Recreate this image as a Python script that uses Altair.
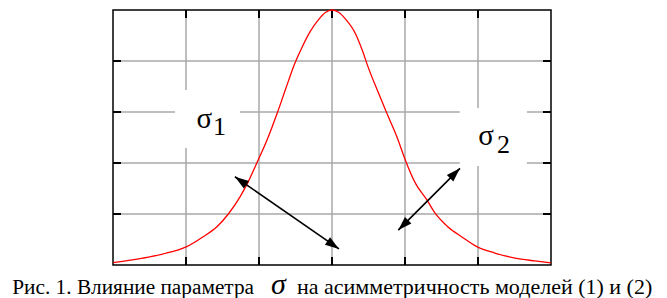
import math
import altair as alt
import pandas as pd

# ---- data ----
curve_x = [-3.0, -2.59, -2.32, -1.99, -1.77, -1.58, -1.42, -1.26, -1.15, -1.03, -0.89, -0.75,
           -0.64, -0.51, -0.40, -0.30, -0.19, -0.09, 0.0, 0.09, 0.18, 0.32, 0.42, 0.49, 0.62, 0.75,
           0.89, 1.0, 1.14, 1.30, 1.41, 1.59, 1.78, 1.99, 2.23, 2.51, 2.78, 3.0]
curve_y = [0.009, 0.027, 0.043, 0.072, 0.110, 0.149, 0.200, 0.267, 0.325, 0.400, 0.490, 0.596,
           0.686, 0.790, 0.860, 0.915, 0.960, 0.990, 1.0, 0.991, 0.966, 0.908, 0.838, 0.780, 0.686,
           0.596, 0.502, 0.415, 0.322, 0.255, 0.204, 0.149, 0.110, 0.071, 0.047, 0.027, 0.016,
           0.008]

grid_x = [-2, -1, 0, 1, 2]
grid_y = [0.2, 0.4, 0.6, 0.8]

# double-headed arrows: (x1, y1, x2, y2) in data units
arrows = [(-1.33, 0.346, 0.096, 0.063),
          (0.908, 0.137, 1.753, 0.379)]

# label boxes (white background) and labels
box_x = [-2.15, 1.75]
box_x2 = [-1.26, 2.67]
box_y = [0.459, 0.388]
box_y2 = [0.686, 0.616]

sigma_x = [-1.75, 2.11]
sigma_y = [0.537, 0.47]
sub_text = ["1", "2"]
sub_x = [-1.63, 2.26]
sub_y = [0.51, 0.44]

caption_left = "Рис. 1. Влияние параметра"
caption_sigma = "σ"
caption_right = "на асимметричность моделей (1) и (2)"

X_DOM = [-3, 3]
Y_DOM = [0, 1]
W, H = 438, 255
KX = W / (X_DOM[1] - X_DOM[0])
KY = H / (Y_DOM[1] - Y_DOM[0])

xs = alt.Scale(domain=X_DOM, nice=False, zero=False)
ys = alt.Scale(domain=Y_DOM, nice=False, zero=False)


def X(field=None, datum=None):
    if datum is not None:
        return alt.X(datum=datum, type="quantitative", scale=xs, axis=None)
    return alt.X(field, type="quantitative", scale=xs, axis=None)


def Y(field=None, datum=None):
    if datum is not None:
        return alt.Y(datum=datum, type="quantitative", scale=ys, axis=None)
    return alt.Y(field, type="quantitative", scale=ys, axis=None)


GRID = "#a8a8a8"

vgrid = alt.Chart(pd.DataFrame({"x": grid_x})).mark_rule(color=GRID, strokeWidth=1.5).encode(
    x=X("x"), y=Y(datum=Y_DOM[0]), y2=alt.Y2(datum=Y_DOM[1]))
hgrid = alt.Chart(pd.DataFrame({"y": grid_y})).mark_rule(color=GRID, strokeWidth=1.5).encode(
    y=Y("y"), x=X(datum=X_DOM[0]), x2=alt.X2(datum=X_DOM[1]))

boxes = alt.Chart(pd.DataFrame({"x": box_x, "x2": box_x2, "y": box_y, "y2": box_y2})).mark_rect(
    color="white").encode(x=X("x"), x2="x2:Q", y=Y("y"), y2="y2:Q")

TL = 8  # tick length in px
tick_b = alt.Chart(pd.DataFrame({"x": grid_x})).mark_rule(color="black", strokeWidth=2).encode(
    x=X("x"), y=Y(datum=Y_DOM[0]), y2=alt.Y2(datum=Y_DOM[0] + TL / KY))
tick_t = alt.Chart(pd.DataFrame({"x": grid_x})).mark_rule(color="black", strokeWidth=2).encode(
    x=X("x"), y=Y(datum=Y_DOM[1]), y2=alt.Y2(datum=Y_DOM[1] - TL / KY))
tick_l = alt.Chart(pd.DataFrame({"y": grid_y})).mark_rule(color="black", strokeWidth=2).encode(
    y=Y("y"), x=X(datum=X_DOM[0]), x2=alt.X2(datum=X_DOM[0] + TL / KX))
tick_r = alt.Chart(pd.DataFrame({"y": grid_y})).mark_rule(color="black", strokeWidth=2).encode(
    y=Y("y"), x=X(datum=X_DOM[1]), x2=alt.X2(datum=X_DOM[1] - TL / KX))

curve = alt.Chart(pd.DataFrame({"x": curve_x, "y": curve_y})).mark_line(
    color="#ff0000", strokeWidth=1.3, interpolate="monotone").encode(x=X("x"), y=Y("y"))

# arrows
seg_rows, head_rows = [], []
HL = 7  # half length of arrow head in px
for i, (x1, y1, x2, y2) in enumerate(arrows):
    seg_rows.append({"id": i, "x": x1, "y": y1, "x2": x2, "y2": y2})
    for (tx, ty, ox, oy) in [(x1, y1, x2, y2), (x2, y2, x1, y1)]:
        dxs = (tx - ox) * KX
        dys = -(ty - oy) * KY
        n = math.hypot(dxs, dys)
        ux, uy = dxs / n, dys / n
        ang = math.degrees(math.atan2(ux, -uy)) % 360
        head_rows.append({"x": tx - HL * ux / KX, "y": ty + HL * uy / KY, "angle": ang})

segs = alt.Chart(pd.DataFrame(seg_rows)).mark_rule(color="black", strokeWidth=1.6).encode(
    x=X("x"), y=Y("y"), x2="x2:Q", y2="y2:Q")
heads = alt.Chart(pd.DataFrame(head_rows)).mark_point(
    shape="M0,-1L-0.65,1L0.65,1Z", filled=True, size=196, color="black", opacity=1,
    strokeWidth=0).encode(x=X("x"), y=Y("y"), angle=alt.Angle("angle:Q", scale=None))

FONT = "Liberation Serif"
sig = alt.Chart(pd.DataFrame({"x": sigma_x, "y": sigma_y})).mark_text(
    text="σ", font=FONT, fontSize=29, align="center", baseline="alphabetic",
    color="black").encode(x=X("x"), y=Y("y"))
sub = alt.Chart(pd.DataFrame({"x": sub_x, "y": sub_y, "t": sub_text})).mark_text(
    font=FONT, fontSize=26, align="left", baseline="alphabetic",
    color="black").encode(x=X("x"), y=Y("y"), text="t:N")

CAP_Y = (265 - 294) / KY
cap1 = alt.Chart().mark_text(text=caption_left, font=FONT, fontSize=21.3, align="right",
                             baseline="alphabetic", color="black").encode(
    x=X(datum=-1.068), y=Y(datum=CAP_Y))
cap2 = alt.Chart().mark_text(text=caption_sigma, font=FONT, fontSize=30,
                             fontStyle="italic", align="center", baseline="alphabetic",
                             color="black").encode(x=X(datum=-0.733), y=Y(datum=CAP_Y))
cap3 = alt.Chart().mark_text(text=caption_right, font=FONT, fontSize=22, align="left",
                             baseline="alphabetic", color="black").encode(
    x=X(datum=-0.479), y=Y(datum=CAP_Y))

chart = alt.layer(
    vgrid, hgrid, boxes, tick_b, tick_t, tick_l, tick_r, curve, segs, heads, sig, sub,
    cap1, cap2, cap3
).properties(
    width=W, height=H,
    autosize=alt.AutoSizeParams(type="none"),
    padding={"left": 105, "top": 2, "right": 108, "bottom": 33},
    background="white",
).configure_view(stroke="black", strokeWidth=1.5)

chart.save("out.html", embed_options={"renderer": "svg", "actions": False})
